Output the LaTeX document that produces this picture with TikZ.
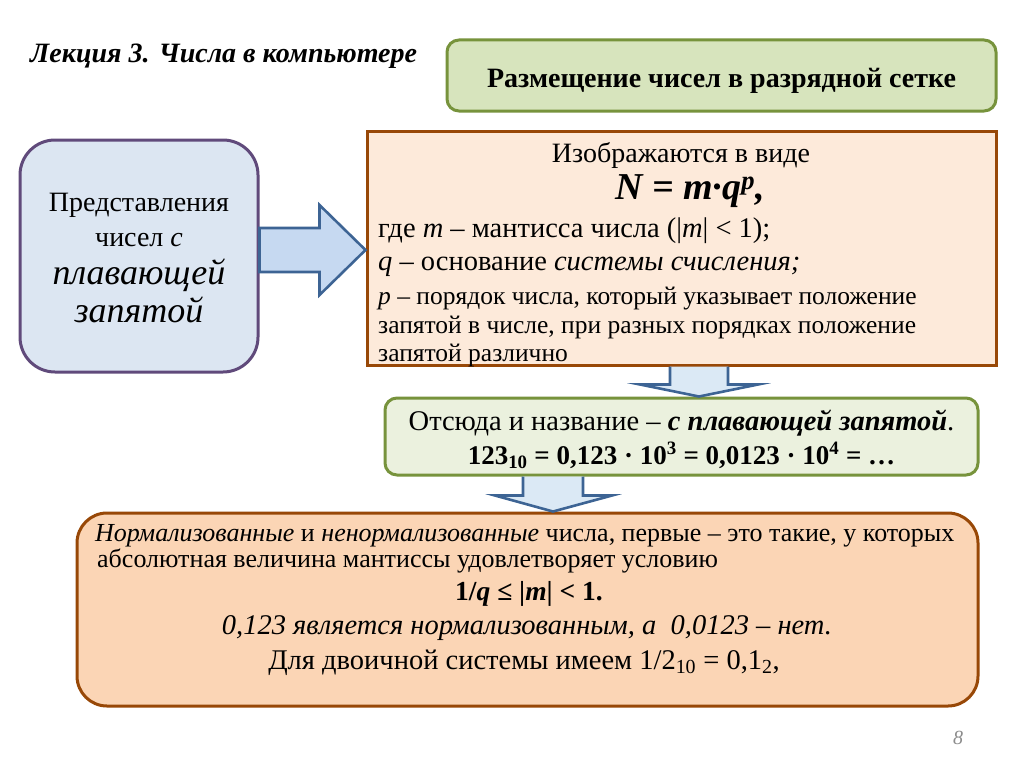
\documentclass[tikz,border=0pt]{standalone}
\usepackage{fontspec}
\setmainfont{Liberation Serif}
\usetikzlibrary{calc}
\definecolor{grfill}{HTML}{D7E4BD}
\definecolor{grdraw}{HTML}{77933C}
\definecolor{gr2fill}{HTML}{EBF1DE}
\definecolor{blfill}{HTML}{DCE6F2}
\definecolor{bldraw}{HTML}{604A7B}
\definecolor{orfill}{HTML}{FDEADA}
\definecolor{ordraw}{HTML}{984807}
\definecolor{or2fill}{HTML}{FBD5B5}
\definecolor{arfill}{HTML}{C6D9F1}
\definecolor{ardraw}{HTML}{3D6494}
\definecolor{ar2fill}{HTML}{DBE9F5}
\newcommand{\myfs}[1]{\fontsize{#1}{#1}\selectfont}
\begin{document}
\begin{tikzpicture}[x=1pt,y=-1pt,
  box/.style={line width=3pt, inner sep=0pt},
  txt/.style={inner sep=0pt, anchor=base},
  ltxt/.style={inner sep=0pt, anchor=base west},
  blockarrow/.style={line width=2.6pt, draw=ardraw, line join=miter}]
\useasboundingbox (0,0) rectangle (1024,768);
\fill[white] (0,0) rectangle (1024,768);

% title
\node[ltxt] (title) at (30,63) {\myfs{28}\bfseries\itshape Лекция 3. Числа в компьютере};

% header box
\node[box, draw=grdraw, fill=grfill, rounded corners=12pt, minimum width=549pt, minimum height=71pt] (hdr) at (721.5,75.5) {};
\node[txt] (hdrt) at (721.5,87) {\myfs{28}\bfseries Размещение чисел в разрядной сетке};

% left box
\node[box, draw=bldraw, fill=blfill, rounded corners=35pt, minimum width=238pt, minimum height=232pt] (L) at (139,256) {};
\node[txt] (L1) at (139,211) {\myfs{28}Представления};
\node[txt] (L2) at (139,246) {\myfs{28}чисел \textit{с}};
\node[txt] (L3) at (139,284) {\myfs{36}\itshape плавающей};
\node[txt] (L4) at (139,322) {\myfs{36}\itshape запятой};

% orange box 1
\node[box, draw=ordraw, fill=orfill, minimum width=629pt, minimum height=234pt] (O1) at (681.5,248) {};
\node[txt] (O1a) at (681,162) {\myfs{28}Изображаются в виде};
\node[txt] (O1b) at (690,199) {\myfs{38}\bfseries\itshape N = m·q\textsuperscript{p},};
\node[ltxt] (O1c) at (378,237) {\myfs{28.5}где \textit{m} – мантисса числа (|\textit{m}| < 1);};
\node[ltxt] (O1d) at (378,270) {\myfs{28.5}\textit{q} – основание \textit{системы счисления;}};
\node[ltxt] (O1e) at (378,304) {\myfs{25.5}\textit{p} – порядок числа, который указывает положение};
\node[ltxt] (O1f) at (378,333) {\myfs{25.5}запятой в числе, при разных порядках положение};
\node[ltxt] (O1g) at (378,361) {\myfs{25.5}запятой различно};

% green box 2
\node[box, draw=grdraw, fill=gr2fill, rounded corners=12pt, minimum width=593pt, minimum height=77pt] (G2) at (681.5,436.5) {};
\node[txt] (G2a) at (681.5,430) {\myfs{28.5}Отсюда и название – \textbf{\textit{с плавающей запятой}}.};
\node[txt] (G2b) at (681.5,464) {\myfs{27}\bfseries 123\textsubscript{10} = 0,123 · 10\textsuperscript{3} = 0,0123 · 10\textsuperscript{4} = …};

% orange box 2
\node[box, draw=ordraw, fill=or2fill, rounded corners=30pt, minimum width=901pt, minimum height=193pt] (O2) at (527.5,609.5) {};
\node[ltxt] (O2a) at (95,541) {\myfs{26}\textit{Нормализованные} и \textit{ненормализованные} числа, первые – это такие, у которых};
\node[ltxt] (O2b) at (97,567) {\myfs{26}абсолютная величина мантиссы удовлетворяет условию};
\node[txt] (O2c) at (529,600) {\myfs{27.5}\bfseries 1/\textit{q} ≤ |\textit{m}| < 1.};
\node[txt] (O2d) at (527,634) {\myfs{28.5}\itshape 0,123 является нормализованным, а\ \ 0,0123 – нет.};
\node[txt] (O2e) at (524,669) {\myfs{28.5}Для двоичной системы имеем 1/2\textsubscript{10} = 0,1\textsubscript{2},};

% page number
\node[txt, text=black!45] (pg) at (958,744) {\myfs{20}\itshape 8};

% right block arrow from L to O1
\coordinate (a1s) at (L.east |- 0,250);
\coordinate (a1t) at (O1.west |- 0,250);
\draw[blockarrow, fill=arfill] ($(a1s)+(0,-22)$) -- ($(a1t)+(-46,-22)$) -- ($(a1t)+(-46,-45)$) -- (a1t)
  -- ($(a1t)+(-46,45)$) -- ($(a1t)+(-46,22)$) -- ($(a1s)+(0,22)$) -- cycle;

% down block arrow from O1 to G2
\coordinate (a2s) at (699,0 |- O1.south);
\coordinate (a2t) at (699,0 |- G2.north);
\draw[blockarrow, fill=ar2fill] ($(a2s)+(-29,0)$) -- ($(a2s)+(-29,18)$) -- ($(a2s)+(-59,18)$) -- (a2t)
  -- ($(a2s)+(59,18)$) -- ($(a2s)+(29,18)$) -- ($(a2s)+(29,0)$);

% down block arrow from G2 to O2
\coordinate (a3s) at (553,0 |- G2.south);
\coordinate (a3t) at (553,0 |- O2.north);
\draw[blockarrow, fill=ar2fill] ($(a3s)+(-30,0)$) -- ($(a3s)+(-30,19)$) -- ($(a3s)+(-58,19)$) -- (a3t)
  -- ($(a3s)+(59,19)$) -- ($(a3s)+(30,19)$) -- ($(a3s)+(30,0)$);
\end{tikzpicture}
\end{document}
